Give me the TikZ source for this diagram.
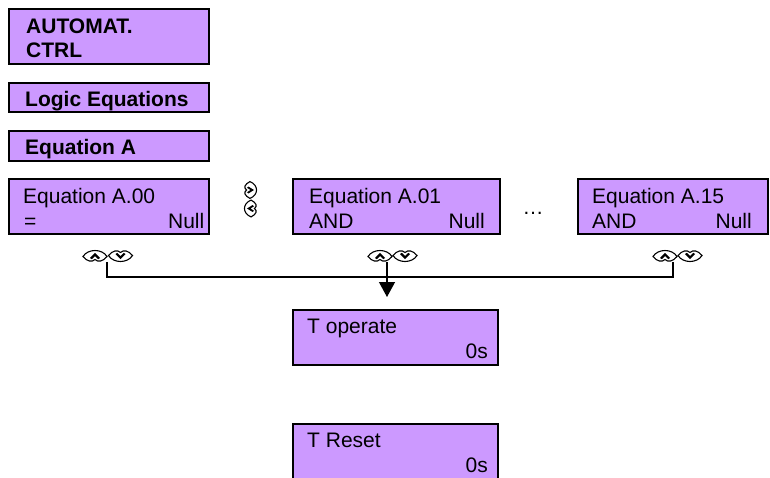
\documentclass[tikz,border=0pt]{standalone}
\usepackage{fontspec}
\setmainfont{Liberation Sans}
\usetikzlibrary{arrows.meta}
\definecolor{lcd}{RGB}{204,153,255}
\tikzset{
  lcdbox/.style={draw=black, line width=2pt, fill=lcd, inner sep=0pt, outer sep=0pt, anchor=north west},
  txt/.style={inner sep=0pt, font=\fontsize{21}{24}\selectfont},
  btxt/.style={inner sep=0pt, font=\fontsize{21}{24}\selectfont\bfseries},
  keyline/.style={draw=black, line width=1.1pt, fill=white},
  wire/.style={draw=black, line width=1.2pt},
  keyshape/.pic={
    \path[keyline] (-12,0.5) .. controls (-7,-7.5) and (7,-7.5) .. (12,0.5)
      .. controls (8,5.5) and (3,6.5) .. (0,3.5)
      .. controls (-3,6.5) and (-8,5.5) .. (-12,0.5) -- cycle;
    \fill[black] (-5,2) -- (0,-3.2) -- (5,2) -- (3.2,3.2) -- (0,0) -- (-3.2,3.2) -- cycle;
  }
}
\begin{document}
\begin{tikzpicture}[x=1pt,y=-1pt]
\useasboundingbox (0,0) rectangle (770,477);

% boxes
\node[lcdbox, minimum width=200pt, minimum height=55pt] (ctrl) at (9,9) {};
\node[lcdbox, minimum width=200pt, minimum height=29pt] (logic) at (9,83) {};
\node[lcdbox, minimum width=200pt, minimum height=30pt] (eqa) at (9,131) {};
\node[lcdbox, minimum width=200pt, minimum height=55pt] (e00) at (9,179) {};
\node[lcdbox, minimum width=207pt, minimum height=55pt] (e01) at (293,179) {};
\node[lcdbox, minimum width=190pt, minimum height=55pt] (e15) at (578,179) {};
\node[lcdbox, minimum width=205pt, minimum height=55pt] (top) at (293,310) {};
\node[lcdbox, minimum width=205pt, minimum height=58pt] (trs) at (293,424) {};

% texts
\node[btxt, anchor=base west] (t1a) at (26,33) {AUTOMAT.};
\node[btxt, anchor=base west] (t1b) at (26,57) {CTRL};
\node[btxt, anchor=base west] (t2) at (25,106) {Logic Equations};
\node[btxt, anchor=base west] (t3) at (25,154) {Equation A};

\node[txt, anchor=base west] (t00a) at (23,203) {Equation A.00};
\node[txt, anchor=base west] (t00b) at (24,228) {=};
\node[txt, anchor=base east] (t00c) at (204.5,228) {Null};

\node[txt, anchor=base west] (t01a) at (309,203) {Equation A.01};
\node[txt, anchor=base west] (t01b) at (309,228) {AND};
\node[txt, anchor=base east] (t01c) at (485,228) {Null};

\node[txt, anchor=base] (dots) at (533,214) {…};

\node[txt, anchor=base west] (t15a) at (592,203) {Equation A.15};
\node[txt, anchor=base west] (t15b) at (592,228) {AND};
\node[txt, anchor=base east] (t15c) at (752,228) {Null};

\node[txt, anchor=base west] (topa) at (307,333) {T operate};
\node[txt, anchor=base east] (topb) at (488,358) {0s};
\node[txt, anchor=base west] (trsa) at (307,447) {T Reset};
\node[txt, anchor=base east] (trsb) at (488,472) {0s};

% keys
\pic[rotate=-90, xscale=0.7, yscale=1.1] at (250.5,190) {keyshape};
\pic[rotate=90, xscale=0.7, yscale=1.1] at (250.5,208.5) {keyshape};

\pic at (95,256) {keyshape};
\pic[yscale=-1] at (120.5,256) {keyshape};
\pic at (380,256) {keyshape};
\pic[yscale=-1] at (405,256) {keyshape};
\pic at (665,256) {keyshape};
\pic[yscale=-1] at (690,256) {keyshape};

% connectors
\coordinate (u00) at (107,262);
\coordinate (u01) at (387,262);
\coordinate (u15) at (673,262);
\coordinate (bus) at (387,277);
\coordinate (tip) at (387,297);
\draw[wire] (u00) |- (bus) -| (u15);
\draw[wire, -{Triangle[width=16pt, length=15pt]}] (u01) -- (tip);
\end{tikzpicture}
\end{document}
